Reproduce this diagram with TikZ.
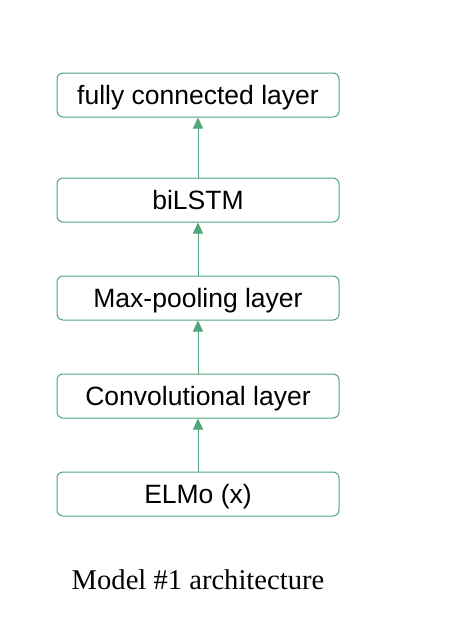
\documentclass[tikz,border=0pt]{standalone}
\usepackage{fontspec}
\setmainfont{Liberation Serif}
\setsansfont{Liberation Sans}
\usetikzlibrary{arrows.meta}
\definecolor{boxgreen}{RGB}{80,165,122}
\tikzset{
	layer/.style={draw=boxgreen,line width=1pt,rounded corners=6pt,minimum width=282pt,minimum height=44pt,
		inner sep=0pt,text depth=0pt,font=\sffamily\fontsize{26.5}{30}\selectfont},
	flow/.style={draw=boxgreen,line width=1pt,-{Triangle[length=11pt,width=10pt]}}
}
\begin{document}
\begin{tikzpicture}[x=1pt,y=-1pt,line join=round]
	\useasboundingbox (0,0) rectangle (452,638);
	\path
	(198,95) node[layer] (fc) {fully connected layer}
	(198,200) node[layer] (lstm) {biLSTM}
	(198,298) node[layer] (pool) {Max-pooling layer}
	(198,396) node[layer] (conv) {Convolutional layer}
	(198,494) node[layer] (elmo) {ELMo (x)}
	(198,580) node[font=\fontsize{28.6}{32}\selectfont] (cap) {Model \#1 architecture}
		;
	\foreach \a/\b in {elmo/conv,conv/pool,pool/lstm,lstm/fc} \draw[flow] (\a.north)--(\b.south);
\end{tikzpicture}
\end{document}
